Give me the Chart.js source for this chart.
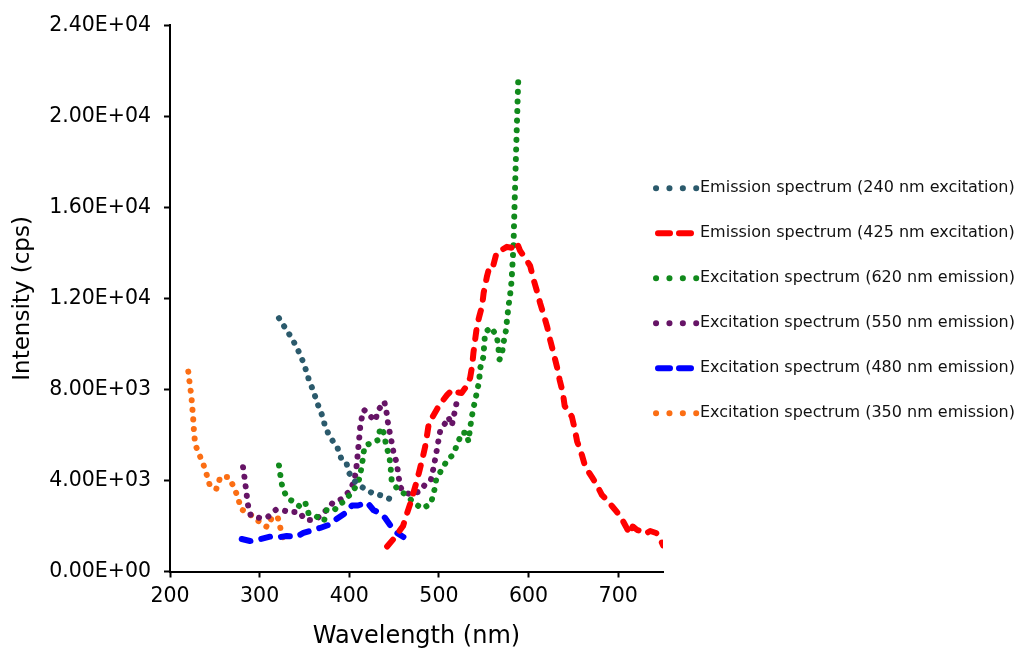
<!DOCTYPE html>
<html>
<head>
<meta charset="utf-8">
<script src="https://cdn.jsdelivr.net/npm/chart.js@4.4.1/dist/chart.umd.min.js"></script>
<style>
  html, body { margin: 0; padding: 0; background: #ffffff; }
  canvas { display: block; }
</style>
</head>
<body>
<canvas id="spectra" width="1021" height="657"></canvas>
<script>
// Tick values
const xTicks = [200, 300, 400, 500, 600, 700];
const yTicks = [0, 4000, 8000, 12000, 16000, 20000, 24000];

// Emission spectrum (240 nm excitation)
const em240Nm  = [321.6, 328.0, 334.7, 340.6, 346.5, 351.0, 355.1, 359.9, 364.4, 369.3, 372.8, 378.0, 386.4, 390.8, 396.4, 399.8, 406.5, 414.0, 424.9, 435.5, 444.6];
const em240Cps = [11131, 10735, 10322, 9913, 9416, 8933, 8405, 7935, 7394, 6902, 6418, 5926, 5486, 4989, 4836, 4330, 3948, 3715, 3464, 3341, 3200];

// Emission spectrum (425 nm excitation)
const em425Nm  = [442.2, 448.9, 455.6, 460.0, 464.2, 467.9, 471.5, 475.1, 478.5, 481.8, 484.6, 486.8, 488.5, 493.5, 498.0, 503.6, 509.2, 515.3, 521.4, 525.3, 531.1, 534.8, 537.1, 538.5, 540.4, 542.3, 544.9, 548.2, 549.9, 553.5, 557.1, 560.8, 564.6, 570.2, 575.8, 581.4, 586.9, 590.6, 596.2, 601.8, 605.7, 609.6, 613.0, 616.9, 620.8, 624.1, 627.8, 631.6, 634.7, 638.3, 640.3, 648.3, 651.4, 654.2, 659.5, 663.2, 670.6, 676.2, 681.8, 687.4, 693.0, 698.5, 704.1, 708.9, 712.8, 716.2, 721.2, 725.7, 730.1, 735.7, 742.4, 746.9, 750.0];
const em425Cps = [1099, 1407, 1758, 2000, 2528, 2967, 3451, 3934, 4462, 4989, 5473, 6001, 6440, 6836, 7143, 7473, 7759, 8001, 7869, 7847, 8155, 8506, 9034, 9605, 10177, 10748, 11188, 11671, 12242, 12946, 13496, 13474, 14045, 14133, 14265, 14221, 14454, 14089, 13782, 13430, 12814, 12287, 11781, 11276, 10748, 10177, 9605, 9012, 8418, 7847, 7275, 6805, 6286, 5715, 5121, 4616, 4154, 3803, 3363, 3143, 2879, 2616, 2308, 1956, 1649, 1978, 1824, 1780, 1649, 1780, 1692, 1429, 1150];

// Excitation spectrum (620 nm emission)
const ex620Nm  = [321.6, 323.5, 325.8, 331.7, 339.0, 346.8, 351.2, 354.6, 362.4, 371.9, 374.7, 383.0, 388.6, 393.1, 402.8, 410.2, 412.8, 415.1, 416.9, 423.2, 432.5, 434.4, 438.8, 441.1, 444.8, 446.3, 447.4, 454.1, 463.4, 473.4, 482.0, 491.0, 494.6, 496.9, 503.2, 509.5, 515.5, 520.6, 525.6, 530.9, 532.9, 534.8, 536.7, 539.3, 542.3, 544.9, 546.0, 549.7, 550.5, 551.6, 557.9, 564.6, 566.4, 567.7, 570.2, 572.0, 574.7, 576.1, 577.6, 579.5, 580.9, 581.7, 583.2, 583.9, 586.2, 588.7];
const ex620Cps = [4660, 4132, 3605, 3209, 3033, 2791, 2989, 2550, 2440, 2220, 2704, 2682, 2923, 3055, 3464, 3904, 4387, 4932, 5486, 5636, 5781, 6321, 6075, 5530, 5047, 4493, 3948, 3613, 3363, 2967, 2769, 2989, 3508, 4022, 4493, 4902, 5121, 5592, 6110, 6088, 5715, 6286, 6805, 7319, 7860, 8374, 8924, 9443, 9957, 10498, 10726, 10353, 9812, 9320, 9517, 10032, 10572, 11099, 11641, 12186, 12696, 13223, 14309, 15377, 18604, 21857];

// Excitation spectrum (550 nm emission)
const ex550Nm  = [281.5, 283.4, 285.2, 286.7, 290.1, 300.1, 309.4, 318.0, 325.3, 333.9, 343.2, 351.5, 361.8, 371.1, 381.1, 390.8, 399.8, 405.4, 407.6, 409.0, 410.2, 411.5, 412.6, 416.5, 423.2, 428.8, 432.5, 439.1, 441.9, 443.6, 446.3, 449.2, 453.0, 454.8, 456.7, 460.4, 467.9, 478.2, 484.9, 491.0, 493.9, 496.5, 498.8, 501.3, 506.9, 510.6, 514.4, 517.3, 520.0];
const ex550Cps = [4581, 4053, 3495, 2967, 2453, 2352, 2409, 2704, 2704, 2602, 2629, 2264, 2264, 2558, 2998, 3174, 3508, 3956, 4431, 4976, 5486, 6023, 6550, 7100, 6836, 6616, 7100, 7464, 6924, 6396, 5899, 5266, 4757, 4242, 3728, 3508, 3394, 3508, 3833, 4022, 4537, 5077, 5605, 6146, 6515, 6779, 6409, 6954, 7464];

// Excitation spectrum (480 nm emission)
const ex480Nm  = [280.0, 289.3, 300.4, 311.6, 320.9, 330.2, 341.4, 348.8, 359.9, 367.4, 379.7, 385.3, 395.3, 403.1, 409.8, 419.9, 426.9, 434.4, 440.0, 445.5, 453.4, 460.4];
const ex480Cps = [1429, 1341, 1416, 1530, 1503, 1561, 1530, 1692, 1824, 1912, 2088, 2295, 2558, 2901, 2901, 3033, 2704, 2558, 2352, 2044, 1692, 1517];

// Excitation spectrum (350 nm emission)
const ex350Nm  = [220.4, 222.0, 223.8, 224.9, 226.0, 226.8, 228.2, 232.4, 237.2, 241.3, 245.0, 252.1, 256.1, 265.1, 271.1, 275.9, 279.2, 287.1, 295.6, 304.6, 308.6, 314.2, 320.2, 323.5, 327.2];
const ex350Cps = [8783, 8256, 7728, 7187, 6647, 6119, 5574, 5165, 4713, 4211, 3701, 3640, 4154, 4154, 3728, 3244, 2734, 2585, 2308, 2031, 1956, 2409, 2383, 1855, 1354];

const FONT = '"DejaVu Sans", "Liberation Sans", sans-serif';

const toPoints = (xs, ys) => xs.map((x, i) => ({ x: x, y: ys[i] }));

// Excel-like scientific labels: 2.40E+04
function sci(v) {
  if (v === 0) return '0.00E+00';
  const e = Math.floor(Math.log10(Math.abs(v)) + 1e-9);
  const m = v / Math.pow(10, e);
  return m.toFixed(2) + 'E' + (e < 0 ? '-' : '+') + String(Math.abs(e)).padStart(2, '0');
}

const DOTTED = { borderWidth: 6, borderDash: [0.1, 9.5], legendDash: [0.1, 13.3], legendFrom: 656, legendTo: 696.2 };
const DASHED = { borderWidth: 6, borderDash: [9, 11], legendDash: [12, 9], legendFrom: 658, legendTo: 691 };

function series(label, xs, ys, color, style) {
  return Object.assign({
    label: label,
    data: toPoints(xs, ys),
    borderColor: color,
    backgroundColor: color,
    borderCapStyle: 'round',
    borderJoinStyle: 'round',
    pointRadius: 0,
    pointHoverRadius: 0,
    tension: 0,
    fill: false
  }, style);
}

// Legend drawn to the right of the plot, each entry with its own line sample
const sideLegend = {
  id: 'sideLegend',
  afterDraw(chart) {
    const ctx = chart.ctx;
    const top = 188.3, step = 45;
    chart.data.datasets.forEach((ds, i) => {
      const y = top + i * step;
      ctx.save();
      ctx.strokeStyle = ds.borderColor;
      ctx.lineWidth = ds.borderWidth;
      ctx.lineCap = 'round';
      ctx.setLineDash(ds.legendDash);
      ctx.beginPath();
      ctx.moveTo(ds.legendFrom, y);
      ctx.lineTo(ds.legendTo, y);
      ctx.stroke();
      ctx.setLineDash([]);
      ctx.fillStyle = '#111111';
      ctx.font = '16px ' + FONT;
      ctx.textAlign = 'left';
      ctx.textBaseline = 'middle';
      ctx.fillText(ds.label, 700, y);
      ctx.restore();
    });
  }
};

new Chart(document.getElementById('spectra'), {
  type: 'line',
  data: {
    datasets: [
      series('Emission spectrum (240 nm excitation)', em240Nm, em240Cps, '#2b5a6c', DOTTED),
      series('Emission spectrum (425 nm excitation)', em425Nm, em425Cps, '#ff0000', DASHED),
      series('Excitation spectrum (620 nm emission)', ex620Nm, ex620Cps, '#118a1c', DOTTED),
      series('Excitation spectrum (550 nm emission)', ex550Nm, ex550Cps, '#661466', DOTTED),
      series('Excitation spectrum (480 nm emission)', ex480Nm, ex480Cps, '#0000ff', DASHED),
      series('Excitation spectrum (350 nm emission)', ex350Nm, ex350Cps, '#fb6e14', DOTTED)
    ]
  },
  options: {
    responsive: false,
    devicePixelRatio: 1,
    animation: false,
    layout: { padding: { left: 0, top: 25, right: 358, bottom: 0 } },
    plugins: {
      legend: { display: false },
      tooltip: { enabled: false }
    },
    scales: {
      x: {
        type: 'linear',
        min: 200,
        max: 750,
        afterBuildTicks: (s) => { s.ticks = xTicks.map(v => ({ value: v })); },
        afterFit: (s) => { s.height = 85.5; },
        ticks: { color: '#000000', font: { family: FONT, size: 20.5 }, padding: 7, maxRotation: 0, autoSkip: false },
        grid: { drawOnChartArea: false, drawTicks: true, tickLength: 6, tickColor: '#000000', tickWidth: 2 },
        border: { display: true, color: '#000000', width: 2 },
        title: { display: true, text: 'Wavelength (nm)', color: '#000000', font: { family: FONT, size: 24 }, padding: { top: 0, bottom: 6 } }
      },
      y: {
        type: 'linear',
        min: 0,
        max: 24000,
        afterBuildTicks: (s) => { s.ticks = yTicks.map(v => ({ value: v })); },
        afterFit: (s) => { s.width = 170; },
        ticks: { color: '#000000', font: { family: FONT, size: 20.5 }, padding: 13, callback: (v) => sci(v), autoSkip: false },
        grid: { drawOnChartArea: false, drawTicks: true, tickLength: 6, tickColor: '#000000', tickWidth: 2 },
        border: { display: true, color: '#000000', width: 2 },
        title: { display: true, text: 'Intensity (cps)', color: '#000000', font: { family: FONT, size: 23 }, padding: { top: 9, bottom: 0 } }
      }
    }
  },
  plugins: [sideLegend]
});
</script>
</body>
</html>
